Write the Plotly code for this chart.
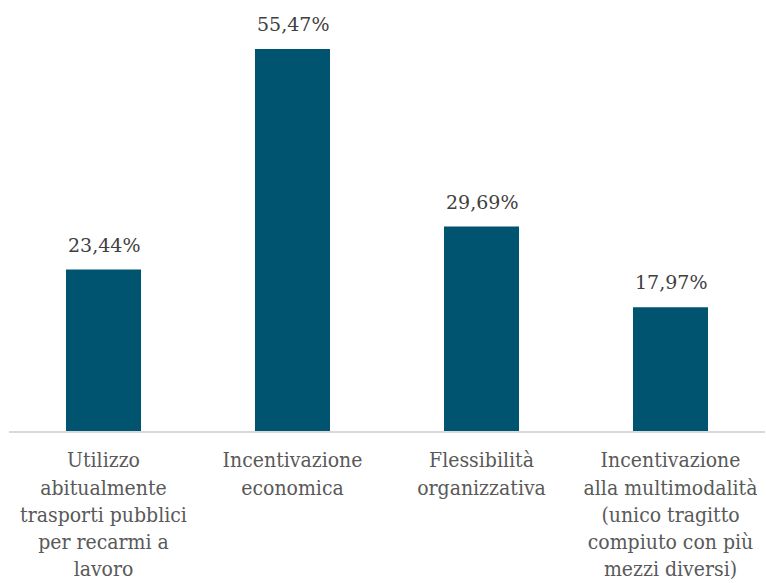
import plotly.graph_objects as go

categories = [
    "Utilizzo<br>abitualmente<br>trasporti pubblici<br>per recarmi a<br>lavoro",
    "Incentivazione<br>economica",
    "Flessibilità<br>organizzativa",
    "Incentivazione<br>alla multimodalità<br>(unico tragitto<br>compiuto con più<br>mezzi diversi)",
]
values = [23.44, 55.47, 29.69, 17.97]
labels = ["23,44%", "55,47%", "29,69%", "17,97%"]

FONT = "DejaVu Serif Condensed, DejaVu Serif"

fig = go.Figure(go.Bar(
    x=categories, y=values,
    marker=dict(color="#00546F", line=dict(width=0)),
    width=0.397,
    hoverinfo="skip",
))

for c, v, t in zip(categories, values, labels):
    fig.add_annotation(x=c, y=v, text=t, showarrow=False, yanchor="bottom",
                       yshift=12, font=dict(family="DejaVu Serif", size=19, color="#404040"))

fig.update_layout(
    width=766, height=583,
    margin=dict(l=9, r=1, t=0, b=152, autoexpand=False),
    plot_bgcolor="white", paper_bgcolor="white",
    showlegend=False,
    font=dict(family=FONT, size=21, color="#595959"),
    xaxis=dict(showline=True, linecolor="#d9d9d9", linewidth=2, ticks="",
               automargin=False, ticklabelstandoff=9,
               tickfont=dict(family=FONT, size=21, color="#595959"), showgrid=False),
    yaxis=dict(range=[0, 62.58], visible=False, showgrid=False, zeroline=False,
               automargin=False),
)

fig.write_html("out.html", config={"displayModeBar": False},
               post_script="document.body.style.margin='0';")
